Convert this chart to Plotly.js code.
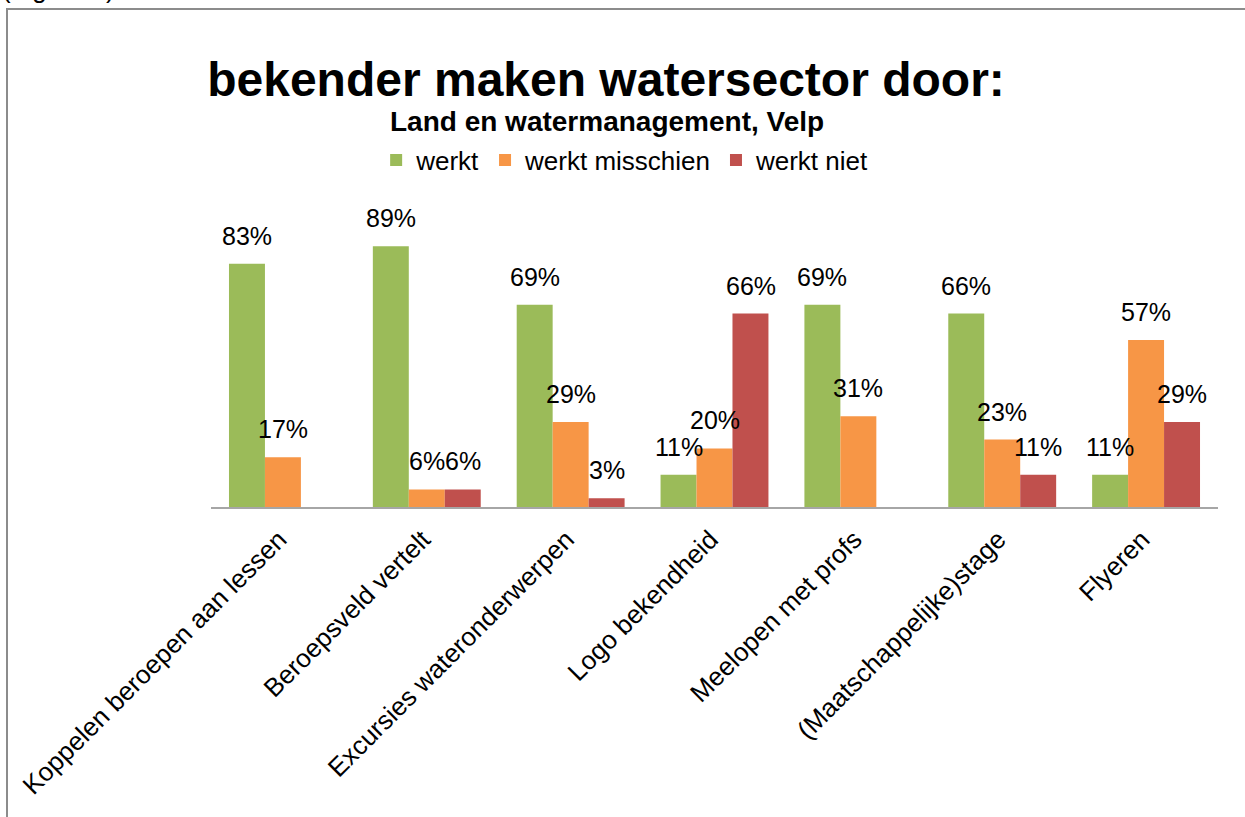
<!DOCTYPE html>
<html>
<head>
<meta charset="utf-8">
<script src="https://cdn.plot.ly/plotly-3.0.1.min.js"></script>
<style>
html,body{margin:0;padding:0;background:#fff;overflow:hidden;}
#wrap{position:relative;width:1245px;height:817px;overflow:hidden;}
#chart{position:absolute;left:0;top:0;width:1245px;height:817px;}
#frame{position:absolute;left:6px;top:8px;width:1400px;height:1000px;
  border-left:2px solid #8C8C8C;border-top:2px solid #8C8C8C;pointer-events:none;}
</style>
</head>
<body>
<div id="wrap">
<div id="chart"></div>
<div id="frame"></div>
</div>
<script>
const categories = [
  "Koppelen beroepen aan lessen",
  "Beroepsveld vertelt",
  "Excursies wateronderwerpen",
  "Logo bekendheid",
  "Meelopen met profs",
  "(Maatschappelijke)stage",
  "Flyeren"
];
const seriesNames = ["werkt", "werkt misschien", "werkt niet"];
const werkt = [83, 89, 69, 11, 69, 66, 11];
const werktMisschien = [17, 6, 29, 20, 31, 23, 57];
const werktNiet = [null, 6, 3, 66, null, 11, 29];
const colors = ["#9BBB59", "#F79646", "#C0504D"];

const allSeries = [werkt, werktMisschien, werktNiet];
const FONT = "Liberation Sans, Arial, sans-serif";

const traces = allSeries.map((vals, i) => ({
  type: "bar",
  name: seriesNames[i],
  x: categories,
  y: vals,
  marker: {color: colors[i], line: {width: 0}},
  hoverinfo: "skip"
}));

const BAR_PX = 36;
const annotations = [];
allSeries.forEach((vals, i) => {
  vals.forEach((v, j) => {
    if (v === null) return;
    annotations.push({
      xref: "x", yref: "y",
      x: categories[j], y: v,
      text: v + "%",
      showarrow: false,
      xanchor: "center", yanchor: "bottom",
      xshift: (i - 1) * BAR_PX,
      yshift: 12,
      font: {family: FONT, size: 25, color: "#000"}
    });
  });
});

annotations.push({
  xref: "paper", yref: "paper",
  x: 0.393, y: 1.314,
  xanchor: "center", yanchor: "middle",
  text: "<b>Land en watermanagement, Velp</b>",
  showarrow: false,
  font: {family: FONT, size: 28, color: "#000"}
});

annotations.push({
  xref: "paper", yref: "paper",
  x: (0 - 211) / 1007, y: (507 - 6) / 293,
  xanchor: "left", yanchor: "bottom",
  text: "(Figuur 3)",
  showarrow: false,
  font: {family: FONT, size: 26, color: "#000"}
});

const layout = {
  width: 1245,
  height: 817,
  margin: {l: 211, r: 27, t: 214, b: 310, autoexpand: false},
  paper_bgcolor: "#ffffff",
  plot_bgcolor: "#ffffff",
  font: {family: FONT, color: "#000"},
  title: {
    text: "<b>bekender maken watersector door:</b>",
    font: {family: FONT, size: 48, color: "#000"},
    x: 606 / 1245, xref: "container", xanchor: "center",
    y: 1 - 79 / 817, yref: "container", yanchor: "middle"
  },
  barmode: "group",
  bargap: 0.25,
  bargroupgap: 0,
  showlegend: true,
  legend: {
    orientation: "h",
    x: 0.164, xanchor: "left",
    y: 1.184, yanchor: "middle",
    font: {family: FONT, size: 26, color: "#000"},
    bgcolor: "rgba(0,0,0,0)",
    itemclick: false, itemdoubleclick: false
  },
  xaxis: {
    type: "category",
    showline: true, linecolor: "#A6A6A6", linewidth: 2,
    showgrid: false, zeroline: false,
    ticks: "",
    tickangle: -45,
    ticklabelstandoff: 5,
    ticklabelshift: -4,
    tickfont: {family: FONT, size: 26, color: "#000"},
    automargin: false,
    fixedrange: true
  },
  yaxis: {
    range: [0, 100],
    visible: false,
    fixedrange: true
  },
  annotations: annotations
};

Plotly.newPlot("chart", traces, layout, {displayModeBar: false, staticPlot: true});
</script>
</body>
</html>
